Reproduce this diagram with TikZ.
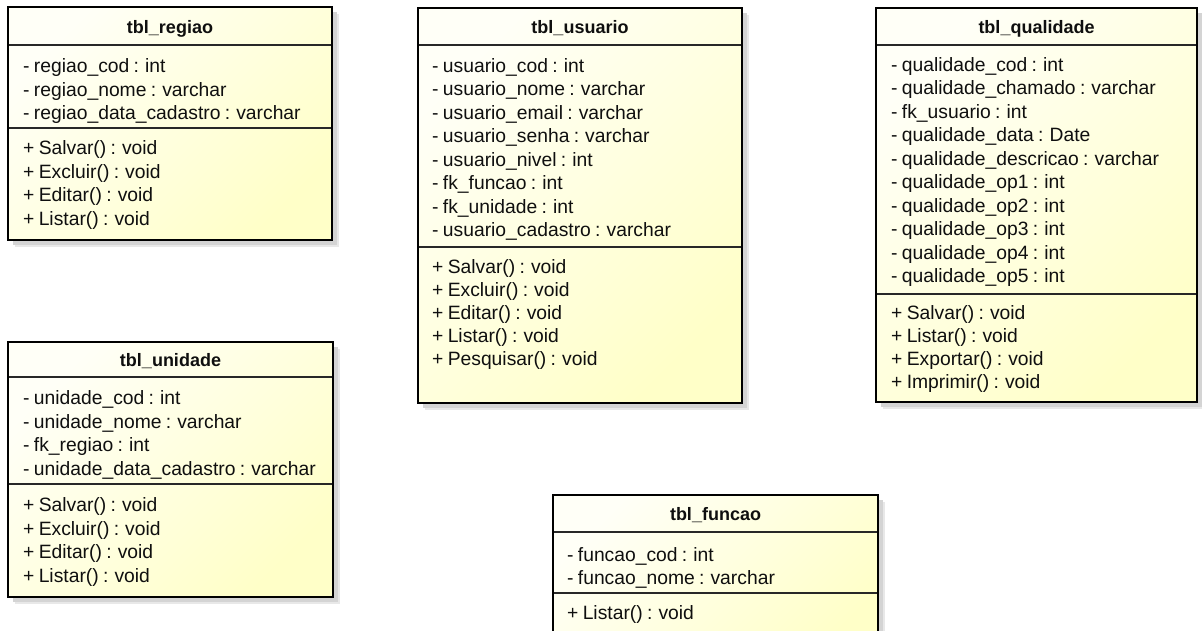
\documentclass[tikz,border=0pt]{standalone}
\usepackage{fontspec}
\setmainfont{Liberation Sans}[WordSpace=0.8]
\definecolor{boxlight}{RGB}{255,255,247}
\definecolor{boxdark}{RGB}{255,255,200}
\definecolor{textc}{RGB}{15,15,15}
\definecolor{linec}{RGB}{40,40,40}
\tikzset{
  shadowfar/.style={fill=black!9},
  shadownear/.style={fill=black!17},
  boxfill/.style={top color=boxlight, bottom color=boxdark, shading angle=45},
  border/.style={draw=black, line width=2.6pt},
  divider/.style={draw=linec, line width=1.5pt},
  member/.style={anchor=west, inner sep=0pt, text height=16pt, text depth=2.5pt,
    text=textc, font=\fontsize{19.3}{23}\selectfont},
  classtitle/.style={inner sep=0pt, text height=16pt, text depth=2.5pt,
    text=textc, font=\bfseries\fontsize{18}{22}\selectfont},
}
% frame of one class: x1, y1, x2, y2, title rule, member rule
\newcommand\classframe[6]{%
  \fill[shadowfar] (#1+7,#2+7) rectangle (#3+7,#4+7);
  \fill[shadownear] (#1+5,#2+5) rectangle (#3+5,#4+5);
  \shade[boxfill] (#1,#2) rectangle (#3,#4);
  \draw[divider] (#1,#5) -- (#3,#5);
  \draw[divider] (#1,#6) -- (#3,#6);
  \draw[border] (#1,#2) rectangle (#3,#4);
}
\begin{document}
\begin{tikzpicture}[x=1pt, y=-1pt]
\useasboundingbox (0,0) rectangle (1202,631);
\clip (0,0) rectangle (1202,631);
\fill[white] (0,0) rectangle (1202,631);

% tbl_regiao
\classframe{8}{7}{332}{240}{45}{128}
\node[classtitle] (regiao) at (170,27) {tbl\_regiao};
\node[member] (regiao-a1) at (23,66) {- regiao\_cod : int};
\node[member] (regiao-a2) at (23,89.5) {- regiao\_nome : varchar};
\node[member] (regiao-a3) at (23,113) {- regiao\_data\_cadastro : varchar};
\node[member] (regiao-m1) at (23,148) {+ Salvar() : void};
\node[member] (regiao-m2) at (23,171.5) {+ Excluir() : void};
\node[member] (regiao-m3) at (23,195) {+ Editar() : void};
\node[member] (regiao-m4) at (23,218.5) {+ Listar() : void};

% tbl_usuario
\classframe{418}{8}{742}{403}{45}{247}
\node[classtitle] (usuario) at (580,27) {tbl\_usuario};
\node[member] (usuario-a1) at (432,65.5) {- usuario\_cod : int};
\node[member] (usuario-a2) at (432,89) {- usuario\_nome : varchar};
\node[member] (usuario-a3) at (432,112.5) {- usuario\_email : varchar};
\node[member] (usuario-a4) at (432,136) {- usuario\_senha : varchar};
\node[member] (usuario-a5) at (432,159.5) {- usuario\_nivel : int};
\node[member] (usuario-a6) at (432,183) {- fk\_funcao : int};
\node[member] (usuario-a7) at (432,206.5) {- fk\_unidade : int};
\node[member] (usuario-a8) at (432,230) {- usuario\_cadastro : varchar};
\node[member] (usuario-m1) at (432,267) {+ Salvar() : void};
\node[member] (usuario-m2) at (432,290) {+ Excluir() : void};
\node[member] (usuario-m3) at (432,313) {+ Editar() : void};
\node[member] (usuario-m4) at (432,336) {+ Listar() : void};
\node[member] (usuario-m5) at (432,359) {+ Pesquisar() : void};

% tbl_qualidade
\classframe{876}{8}{1197}{402}{45}{294}
\node[classtitle] (qualidade) at (1036.5,27) {tbl\_qualidade};
\node[member] (qualidade-a1) at (891,64.5) {- qualidade\_cod : int};
\node[member] (qualidade-a2) at (891,88) {- qualidade\_chamado : varchar};
\node[member] (qualidade-a3) at (891,111.5) {- fk\_usuario : int};
\node[member] (qualidade-a4) at (891,135) {- qualidade\_data : Date};
\node[member] (qualidade-a5) at (891,158.5) {- qualidade\_descricao : varchar};
\node[member] (qualidade-a6) at (891,182) {- qualidade\_op1 : int};
\node[member] (qualidade-a7) at (891,205.5) {- qualidade\_op2 : int};
\node[member] (qualidade-a8) at (891,229) {- qualidade\_op3 : int};
\node[member] (qualidade-a9) at (891,252.5) {- qualidade\_op4 : int};
\node[member] (qualidade-a10) at (891,276) {- qualidade\_op5 : int};
\node[member] (qualidade-m1) at (891,313) {+ Salvar() : void};
\node[member] (qualidade-m2) at (891,336) {+ Listar() : void};
\node[member] (qualidade-m3) at (891,359) {+ Exportar() : void};
\node[member] (qualidade-m4) at (891,382) {+ Imprimir() : void};

% tbl_unidade
\classframe{8}{342}{333}{597}{377}{484}
\node[classtitle] (unidade) at (170.5,360) {tbl\_unidade};
\node[member] (unidade-a1) at (23,398) {- unidade\_cod : int};
\node[member] (unidade-a2) at (23,421.5) {- unidade\_nome : varchar};
\node[member] (unidade-a3) at (23,445) {- fk\_regiao : int};
\node[member] (unidade-a4) at (23,468.5) {- unidade\_data\_cadastro : varchar};
\node[member] (unidade-m1) at (23,505) {+ Salvar() : void};
\node[member] (unidade-m2) at (23,528.5) {+ Excluir() : void};
\node[member] (unidade-m3) at (23,552) {+ Editar() : void};
\node[member] (unidade-m4) at (23,575.5) {+ Listar() : void};

% tbl_funcao (runs past the lower edge)
\classframe{553}{495}{878}{665}{532}{593}
\node[classtitle] (funcao) at (715.5,514) {tbl\_funcao};
\node[member] (funcao-a1) at (567,555) {- funcao\_cod : int};
\node[member] (funcao-a2) at (567,578) {- funcao\_nome : varchar};
\node[member] (funcao-m1) at (567,613) {+ Listar() : void};
\end{tikzpicture}
\end{document}
